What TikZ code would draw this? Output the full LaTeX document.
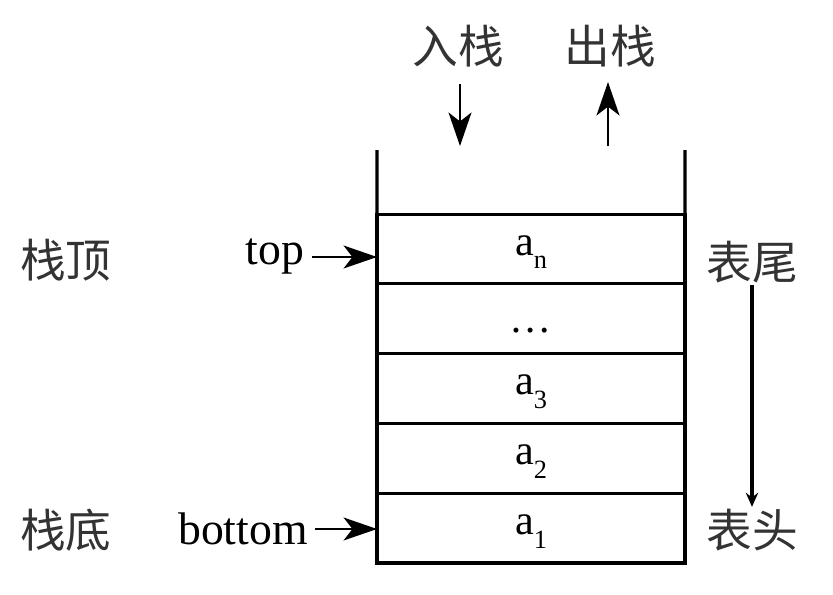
\documentclass[tikz,border=0pt]{standalone}
\usepackage{fontspec}
\setmainfont{Liberation Serif}
\newfontfamily\cjk{Noto Sans CJK SC}
\usepackage{xcolor}
\usetikzlibrary{positioning,arrows.meta}
\newcommand{\elem}[1]{a\raisebox{-0.7ex}{\fontsize{15}{15}\selectfont #1}}

\begin{document}
\begin{tikzpicture}[x=0.02cm, y=-0.02cm,
							cell/.style = {rectangle, draw, line width=1.8pt, outer sep=0pt, minimum width=6.16cm, minimum height=1.396cm, inner sep=0pt, text depth=4pt, font=\fontsize{24}{26}\selectfont},
							lbl/.style = {inner sep=1pt, font=\fontsize{26}{30}\selectfont},
							zh/.style = {inner sep=1pt, text=black!80, font=\cjk\fontsize{26}{30}\selectfont},
							arr/.style = {-{Stealth[length=19pt, width=13pt, inset=5pt]}, line width=1.6pt},
							thin arr/.style = {-{Stealth[length=8pt, width=7pt]}, line width=1.8pt}]
			\useasboundingbox (0,0) rectangle (833,595);
			% stack cells, top to bottom
			\node[cell] (an) at (531,249) {\elem{n}};
			\node[cell, below=0pt of an] (dots) {\raisebox{-0.9ex}{\ldots}};
			\node[cell, below=0pt of dots] (a3) {\elem{3}};
			\node[cell, below=0pt of a3] (a2) {\elem{2}};
			\node[cell, below=0pt of a2] (a1) {\elem{1}};
			
			% open walls above the top cell
			\coordinate (lwall) at (377,150);
			\coordinate (rwall) at (685,150);
			\draw[line width=1.8pt] (lwall) -- (a1.south west);
			\draw[line width=1.8pt] (rwall) -- (a1.south east);
			
			% push and pop
			\node[zh] (push) at (458,46) {入栈};
			\node[zh] (pop) at (610,46) {出栈};
			\coordinate (pushstart) at (460,84);
			\coordinate (pushend) at (460,146);
			\coordinate (popstart) at (608,146);
			\coordinate (popend) at (608,82);
			\draw[arr] (pushstart) -- (pushend);
			\draw[arr] (popstart) -- (popend);
			
			% pointers
			\node[zh] (stop) at (66,260) {栈顶};
			\node[zh] (sbottom) at (66,530) {栈底};
			\node[lbl] (top) at (275,257) {top};
			\node[lbl] (bottom) at (243,529) {bottom};
			\draw[arr] ([xshift=3pt]top.east) -- (an.west |- top.east);
			\draw[arr] ([xshift=3pt]bottom.east) -- (a1.west |- bottom.east);
			
			% list ends
			\node[zh] (tail) at (752,262) {表尾};
			\node[zh] (head) at (752,530) {表头};
			\draw[thin arr] (tail) -- (head);
		\end{tikzpicture}
\end{document}
